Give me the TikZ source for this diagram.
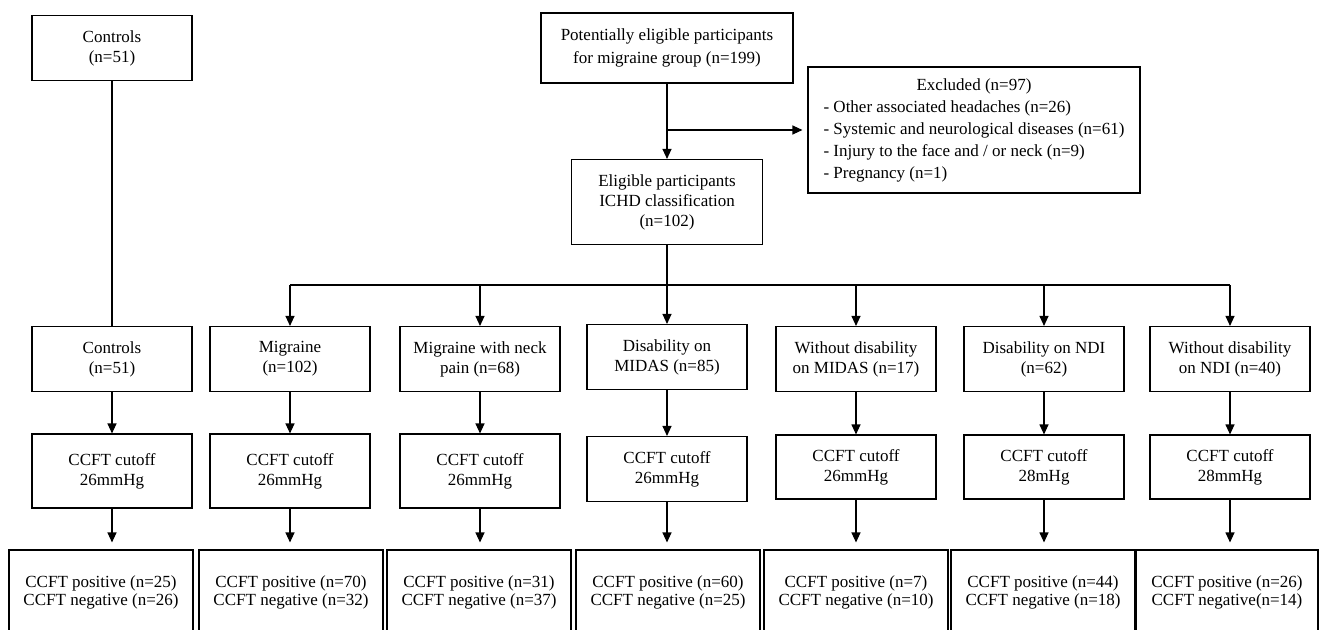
\documentclass[tikz,border=0pt]{standalone}
\usepackage{fontspec}
\setmainfont{Liberation Serif}
\usetikzlibrary{arrows.meta}

\begin{document}
\begin{tikzpicture}[x=1pt, y=-1pt,
	link/.style={line width=1.1pt},
	arr/.style={link, -{Triangle[length=10pt, width=9pt]}},
	box/.style={draw, link, minimum width=160pt, minimum height=65pt, align=center, inner sep=2pt, font=\fontsize{17}{20}\selectfont},
	resbox/.style={draw, link, minimum width=184pt, minimum height=84pt, align=center, inner sep=2pt, font=\fontsize{17}{18}\selectfont}]

	\useasboundingbox (0,0) rectangle (1319,629);

	% top part
	\node[box]                                                                   (ctrltop)   at (112, 48)  {Controls\\(n=51)};
	\node[box, minimum width=252pt, minimum height=70pt, font=\fontsize{17}{23}\selectfont] (potential) at (667, 48)  {Potentially eligible participants\\for migraine group (n=199)};
	\node[box, minimum width=191pt, minimum height=85pt]                          (elig)      at (667, 202) {Eligible participants\\ICHD classification\\(n=102)};
	\node[draw, link, minimum width=332pt, minimum height=126pt, inner sep=2pt, font=\fontsize{17}{22}\selectfont] (excl) at (974, 130)
		{\begin{tabular}{@{}l@{}}
			\multicolumn{1}{@{}c@{}}{Excluded (n=97)}\\
			- Other associated headaches (n=26)\\
			- Systemic and neurological diseases (n=61)\\
			- Injury to the face and / or neck (n=9)\\
			- Pregnancy (n=1)
		\end{tabular}};

	% groups
	\node[box] (ctrl)    at ( 112, 359) {Controls\\(n=51)};
	\node[box] (migr)    at ( 290, 359) {Migraine\\(n=102)};
	\node[box] (neck)    at ( 480, 359) {Migraine with neck\\pain (n=68)};
	\node[box] (midas)   at ( 667, 357) {Disability on\\MIDAS (n=85)};
	\node[box] (nomidas) at ( 856, 359) {Without disability\\on MIDAS (n=17)};
	\node[box] (ndi)     at (1044, 359) {Disability on NDI\\(n=62)};
	\node[box] (nondi)   at (1230, 359) {Without disability\\on NDI (n=40)};

	% cutoffs
	\node[box, minimum height=74pt] (ctrlcut)    at ( 112, 471) {CCFT cutoff\\26mmHg};
	\node[box, minimum height=74pt] (migrcut)    at ( 290, 471) {CCFT cutoff\\26mmHg};
	\node[box, minimum height=74pt] (neckcut)    at ( 480, 471) {CCFT cutoff\\26mmHg};
	\node[box, minimum height=65pt] (midascut)   at ( 667, 469) {CCFT cutoff\\26mmHg};
	\node[box, minimum height=64pt] (nomidascut) at ( 856, 467) {CCFT cutoff\\26mmHg};
	\node[box, minimum height=64pt] (ndicut)     at (1044, 467) {CCFT cutoff\\28mHg};
	\node[box, minimum height=64pt] (nondicut)   at (1230, 467) {CCFT cutoff\\28mmHg};

	% results
	\node[resbox]                     (ctrlres)    at ( 101, 592) {CCFT positive (n=25)\\CCFT negative (n=26)};
	\node[resbox]                     (migrres)    at ( 291, 592) {CCFT positive (n=70)\\CCFT negative (n=32)};
	\node[resbox]                     (neckres)    at ( 479, 592) {CCFT positive (n=31)\\CCFT negative (n=37)};
	\node[resbox]                     (midasres)   at ( 668, 592) {CCFT positive (n=60)\\CCFT negative (n=25)};
	\node[resbox]                     (nomidasres) at ( 856, 592) {CCFT positive (n=7)\\CCFT negative (n=10)};
	\node[resbox]                     (ndires)     at (1043, 592) {CCFT positive (n=44)\\CCFT negative (n=18)};
	\node[resbox, minimum width=182pt] (nondires)  at (1227, 592) {CCFT positive (n=26)\\CCFT negative(n=14)};

	\coordinate (bus) at (667, 285);

	\draw[link] (ctrltop) -- (ctrl);
	\draw[arr] (potential) -- (elig);
	\draw[arr, shorten >=5pt] (potential.south |- excl.west) -- (excl.west);
	\draw[link] (elig.south) -- (bus);
	\draw[link] (migr.north |- bus) -- (nondi.north |- bus);

	\draw[arr] (migr.north |- bus)    -- (migr.north);
	\draw[arr] (neck.north |- bus)    -- (neck.north);
	\draw[arr] (midas.north |- bus)   -- (midas.north);
	\draw[arr] (nomidas.north |- bus) -- (nomidas.north);
	\draw[arr] (ndi.north |- bus)     -- (ndi.north);
	\draw[arr] (nondi.north |- bus)   -- (nondi.north);

	\draw[arr] (ctrl)    -- (ctrlcut);
	\draw[arr] (migr)    -- (migrcut);
	\draw[arr] (neck)    -- (neckcut);
	\draw[arr] (midas)   -- (midascut);
	\draw[arr] (nomidas) -- (nomidascut);
	\draw[arr] (ndi)     -- (ndicut);
	\draw[arr] (nondi)   -- (nondicut);

	\draw[arr, shorten >=7pt] (ctrlcut.south)    -- (ctrlcut.south |- ctrlres.north);
	\draw[arr, shorten >=7pt] (migrcut.south)    -- (migrcut.south |- migrres.north);
	\draw[arr, shorten >=7pt] (neckcut.south)    -- (neckcut.south |- neckres.north);
	\draw[arr, shorten >=7pt] (midascut.south)   -- (midascut.south |- midasres.north);
	\draw[arr, shorten >=7pt] (nomidascut.south) -- (nomidascut.south |- nomidasres.north);
	\draw[arr, shorten >=7pt] (ndicut.south)     -- (ndicut.south |- ndires.north);
	\draw[arr, shorten >=7pt] (nondicut.south)   -- (nondicut.south |- nondires.north);
\end{tikzpicture}
\end{document}
